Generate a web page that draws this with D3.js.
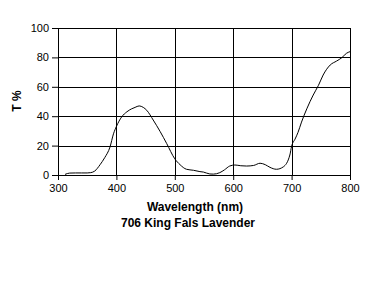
<!DOCTYPE html>
<html>
<head>
<meta charset="utf-8">
<script src="https://cdn.jsdelivr.net/npm/d3@7"></script>
<style>
  body { margin: 0; background: #fff; }
  text { font-family: "Liberation Sans", Arial, sans-serif; }
</style>
</head>
<body>
<svg id="chart" width="388" height="287"></svg>
<script>
// wavelength (nm) and transmission (%)
var wavelengths = [312, 320, 330, 340, 350, 356, 363, 372, 380, 389, 395, 400, 409, 418, 426, 432, 439, 446, 452, 463, 475, 486, 500, 509, 520, 532, 543, 549, 560, 566, 577, 585, 594, 603, 613, 623, 635, 646, 655, 663, 674, 686, 697, 700, 706, 711, 717, 726, 737, 746, 754, 766, 777, 786, 794, 800];
var transmission = [0.4, 1.3, 1.4, 1.4, 1.4, 1.6, 2.7, 7, 11.8, 19, 28, 33, 39.5, 43, 45, 46, 47, 46, 44, 37.4, 29.5, 21.5, 11, 7, 3.9, 3.2, 2.3, 2, 0.7, 0.6, 1.6, 3.5, 6.1, 6.8, 6.3, 6.1, 6.5, 8, 7, 5.2, 3.9, 5.6, 13.6, 19.5, 24.5, 29, 36, 45, 54.4, 61, 68, 74.8, 77.5, 79.8, 82.8, 83.9];
var xTicks = [300, 400, 500, 600, 700, 800];
var yTicks = [0, 20, 40, 60, 80, 100];

var svg = d3.select("#chart");
var margin = {top: 28, left: 58, right: 38, bottom: 112};
var width = 388 - margin.left - margin.right,
    height = 287 - margin.top - margin.bottom;

var x = d3.scaleLinear().domain([300, 800]).range([0, width]);
var y = d3.scaleLinear().domain([0, 100]).range([height, 0]);

var g = svg.append("g")
    .attr("transform", "translate(" + margin.left + "," + margin.top + ")");

// gridlines
g.selectAll(".hgrid").data(yTicks).enter().append("line")
  .attr("x1", 0).attr("x2", width)
  .attr("y1", function(d) { return Math.round(y(d)) + 0.5; })
  .attr("y2", function(d) { return Math.round(y(d)) + 0.5; })
  .attr("stroke", "#000");
g.selectAll(".vgrid").data(xTicks).enter().append("line")
  .attr("y1", 0).attr("y2", height)
  .attr("x1", function(d) { return Math.round(x(d)) + 0.5; })
  .attr("x2", function(d) { return Math.round(x(d)) + 0.5; })
  .attr("stroke", "#000");

// axes
var xAxis = d3.axisBottom(x).tickValues(xTicks).tickSize(5).tickPadding(4).tickSizeOuter(0);
var yAxis = d3.axisLeft(y).tickValues(yTicks).tickSize(6).tickPadding(3).tickSizeOuter(0);

g.append("g").attr("transform", "translate(0," + height + ")").call(xAxis)
  .call(function(a) { a.select(".domain").remove(); })
  .selectAll("text").attr("font-size", 11).attr("fill", "#000")
  .attr("font-family", "Liberation Sans, Arial, sans-serif");
g.append("g").call(yAxis)
  .call(function(a) { a.select(".domain").remove(); })
  .selectAll("text").attr("font-size", 11).attr("fill", "#000")
  .attr("font-family", "Liberation Sans, Arial, sans-serif");
g.selectAll(".tick line").attr("stroke", "#000");

// the curve
var pts = wavelengths.map(function(w, i) { return [w, transmission[i]]; });
var line = d3.line()
  .x(function(d) { return x(d[0]); })
  .y(function(d) { return y(d[1]); })
  .curve(d3.curveMonotoneX);

g.append("path").datum(pts)
  .attr("d", line)
  .attr("fill", "none")
  .attr("stroke", "#000")
  .attr("stroke-width", 1);

// titles
svg.append("text")
  .attr("transform", "translate(21,101) rotate(-90)")
  .attr("text-anchor", "middle")
  .attr("font-size", 12).attr("font-weight", "bold")
  .text("T %");

svg.append("text")
  .attr("x", 195).attr("y", 211)
  .attr("text-anchor", "middle")
  .attr("font-size", 12).attr("font-weight", "bold")
  .text("Wavelength (nm)");

svg.append("text")
  .attr("x", 188).attr("y", 227)
  .attr("text-anchor", "middle")
  .attr("font-size", 12).attr("font-weight", "bold")
  .text("706 King Fals Lavender");
</script>
</body>
</html>
